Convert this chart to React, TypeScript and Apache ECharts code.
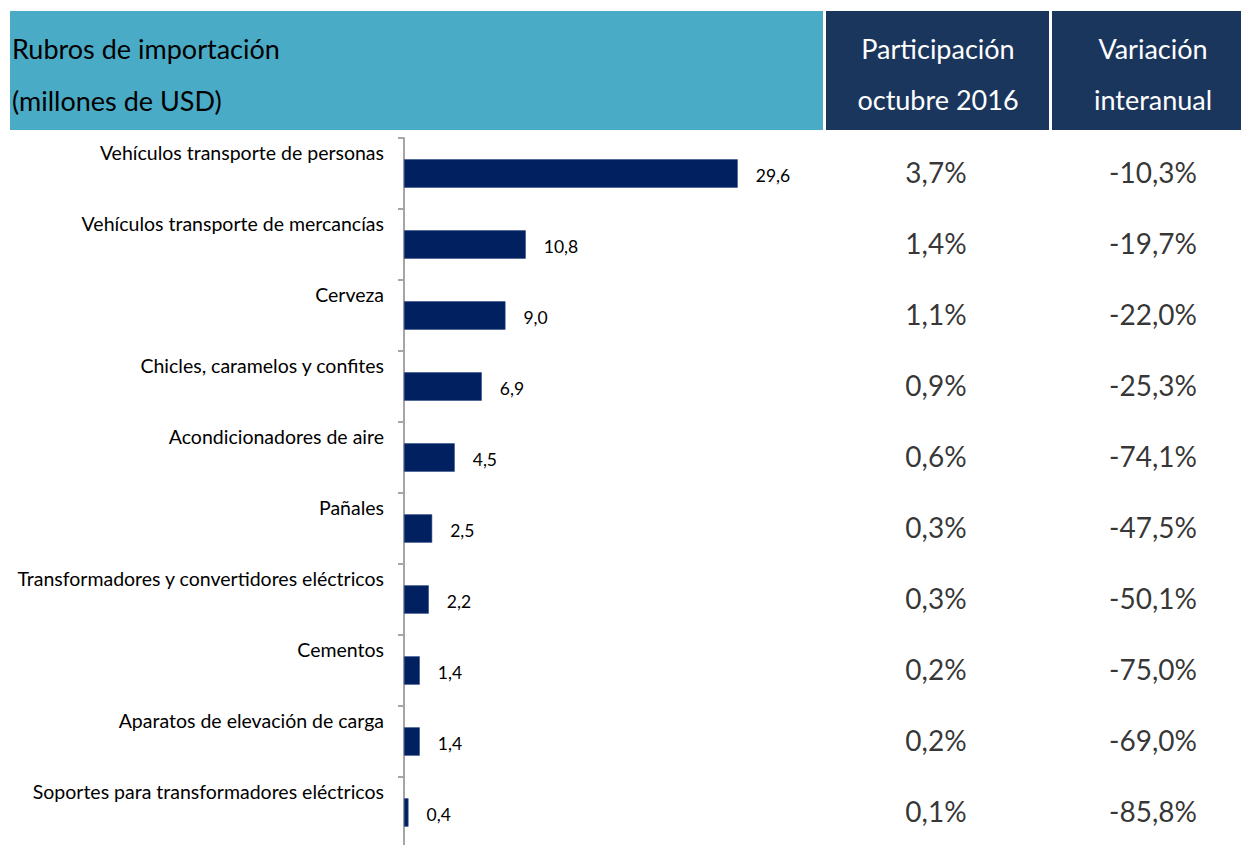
import React, { useEffect, useRef } from "react";
import * as echarts from "echarts";

const categories = [
  "Vehículos transporte de personas",
  "Vehículos transporte de mercancías",
  "Cerveza",
  "Chicles, caramelos y confites",
  "Acondicionadores de aire",
  "Pañales",
  "Transformadores y convertidores eléctricos",
  "Cementos",
  "Aparatos de elevación de carga",
  "Soportes para transformadores eléctricos",
];
const values = [29.6, 10.8, 9.0, 6.9, 4.5, 2.5, 2.2, 1.4, 1.4, 0.4];
const participacion = ["3,7%", "1,4%", "1,1%", "0,9%", "0,6%", "0,3%", "0,3%", "0,2%", "0,2%", "0,1%"];
const variacion = ["-10,3%", "-19,7%", "-22,0%", "-25,3%", "-74,1%", "-47,5%", "-50,1%", "-75,0%", "-69,0%", "-85,8%"];
const headerLeft = ["Rubros de importación", "(millones de USD)"];
const headerCol1 = ["Participación", "octubre 2016"];
const headerCol2 = ["Variación", "interanual"];
const tableColumns = ["Participación", "Variación"];

const FONT = "Lato, 'Open Sans', sans-serif";

export default function App() {
  const ref = useRef<HTMLDivElement>(null);
  useEffect(() => {
    if (!ref.current) return;
    const chart = echarts.init(ref.current, undefined, { renderer: "svg" });
    const fmt = (v: number) => v.toFixed(1).replace(".", ",");
    const headerFont = `27px ${FONT}`;
    chart.setOption({
      animation: false,
      textStyle: { fontFamily: FONT },
      grid: [
        { left: 404, top: 138, width: 451, height: 710 },
        { left: 936, top: 138, width: 217, height: 710 },
      ],
      xAxis: [
        { type: "value", gridIndex: 0, min: 0, max: 40, show: false },
        { type: "category", gridIndex: 1, data: tableColumns, boundaryGap: false, show: false },
      ],
      yAxis: [
        {
          type: "category",
          gridIndex: 0,
          inverse: true,
          data: categories,
          axisLine: { show: true, lineStyle: { color: "#A6A6A6", width: 2 } },
          axisTick: { show: true, length: 6, lineStyle: { color: "#A6A6A6", width: 2 } },
          axisLabel: {
            interval: 0,
            margin: 20,
            fontSize: 19.5,
            lineHeight: 42,
            color: "#000",
            fontFamily: FONT,
            formatter: (v: string) => v + "\n ",
          },
        },
        { type: "category", gridIndex: 1, inverse: true, data: categories, show: false },
      ],
      series: [
        {
          type: "bar",
          xAxisIndex: 0,
          yAxisIndex: 0,
          data: values,
          barCategoryGap: "60%",
          itemStyle: { color: "#002060", borderColor: "#2E4A86", borderWidth: 0.6 },
          label: {
            show: true,
            position: "right",
            distance: 18,
            offset: [0, 2],
            fontSize: 17.5,
            color: "#000",
            fontFamily: FONT,
            formatter: (p: any) => fmt(p.value),
          },
        },
        {
          type: "scatter",
          xAxisIndex: 1,
          yAxisIndex: 1,
          symbolSize: 1,
          itemStyle: { color: "transparent" },
          data: categories.map((_, i) => [0, i]),
          label: {
            show: true,
            position: "inside",
            offset: [0, -2],
            fontSize: 28,
            color: "#000",
            fontFamily: FONT,
            formatter: (p: any) => participacion[p.dataIndex],
          },
        },
        {
          type: "scatter",
          xAxisIndex: 1,
          yAxisIndex: 1,
          symbolSize: 1,
          itemStyle: { color: "transparent" },
          data: categories.map((_, i) => [1, i]),
          label: {
            show: true,
            position: "inside",
            offset: [0, -2],
            fontSize: 28,
            color: "#000",
            fontFamily: FONT,
            formatter: (p: any) => variacion[p.dataIndex],
          },
        },
      ],
      graphic: [
        { type: "rect", shape: { x: 10, y: 11, width: 813, height: 119 }, style: { fill: "#4AABC6" } },
        { type: "rect", shape: { x: 826, y: 11, width: 223, height: 119 }, style: { fill: "#1B365D" } },
        { type: "rect", shape: { x: 1052, y: 11, width: 189, height: 119 }, style: { fill: "#1B365D" } },
        {
          type: "text", x: 12, y: 48,
          style: { text: headerLeft[0], fill: "#000", font: headerFont, textAlign: "left", textVerticalAlign: "middle" },
        },
        {
          type: "text", x: 12, y: 100,
          style: { text: headerLeft[1], fill: "#000", font: headerFont, textAlign: "left", textVerticalAlign: "middle" },
        },
        {
          type: "text", x: 938, y: 48,
          style: { text: headerCol1[0], fill: "#fff", font: headerFont, textAlign: "center", textVerticalAlign: "middle" },
        },
        {
          type: "text", x: 938, y: 99,
          style: { text: headerCol1[1], fill: "#fff", font: headerFont, textAlign: "center", textVerticalAlign: "middle" },
        },
        {
          type: "text", x: 1153, y: 48,
          style: { text: headerCol2[0], fill: "#fff", font: headerFont, textAlign: "center", textVerticalAlign: "middle" },
        },
        {
          type: "text", x: 1153, y: 99,
          style: { text: headerCol2[1], fill: "#fff", font: headerFont, textAlign: "center", textVerticalAlign: "middle" },
        },
      ],
    });
    return () => chart.dispose();
  }, []);
  return (
    <div
      ref={ref}
      style={{ position: "fixed", left: 0, top: 0, width: 1241, height: 860, background: "#fff" }}
    />
  );
}
